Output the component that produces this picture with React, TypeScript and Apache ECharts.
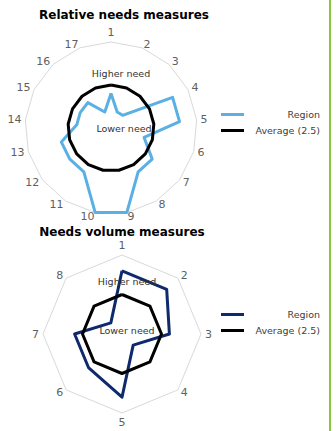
import React, { useEffect, useRef } from "react";
import * as echarts from "echarts";

const relLabels = ["1","2","3","4","5","6","7","8","9","10","11","12","13","14","15","16","17"];
const relRegion = [2, 1, 1, 4, 4, 2, 3, 3, 5, 5, 3, 3, 3, 2, 2, 2, 1];
const volLabels = ["1","2","3","4","5","6","7","8"];
const volRegion = [4, 4, 3, 1, 4, 3, 3, 1];
const averageValue = 2.5;
const maxValue = 5;
const legendNames = ["Region", "Average (2.5)"];
const titles = ["Relative needs measures", "Needs volume measures"];
const noteTexts = ["Higher need", "Lower need"];

const LIGHT_BLUE = "#5AB0E4";
const NAVY = "#0E2A6C";
const FONT = "DejaVu Sans, Verdana, sans-serif";

// ECharts radar lays indicators counter-clockwise; reorder to get clockwise.
function clockwise<T>(arr: T[]): T[] {
  return [arr[0], ...arr.slice(1).reverse()];
}

export default function App() {
  const ref = useRef<HTMLDivElement>(null);
  useEffect(() => {
    document.body.style.margin = "0";
    const chart = echarts.init(ref.current!, null, { renderer: "svg" });
    const radarBase = (labels: string[], center: number[], radius: number) => ({
      center,
      radius,
      startAngle: 90,
      shape: "polygon",
      splitNumber: 1,
      indicator: clockwise(labels).map((n) => ({ name: n, min: 0, max: maxValue })),
      axisName: { color: "#5f5f5f", fontSize: 11, fontFamily: FONT },
      nameGap: 4,
      splitLine: { lineStyle: { color: "#d9d9d9", width: 1 } },
      splitArea: { show: false },
      axisLine: { show: false },
      axisTick: { show: false },
      axisLabel: { show: false },
    });
    const legend = (y: number, color: string) => [
      { type: "line", shape: { x1: 221, y1: y, x2: 244, y2: y }, style: { stroke: color, lineWidth: 3 } },
      { type: "line", shape: { x1: 221, y1: y + 16, x2: 244, y2: y + 16 }, style: { stroke: "#000", lineWidth: 3 } },
      { type: "text", x: 320, y: y, style: { text: legendNames[0], textAlign: "right", textVerticalAlign: "middle", font: `9.5px ${FONT}`, fill: "#404040" } },
      { type: "text", x: 320, y: y + 16, style: { text: legendNames[1], textAlign: "right", textVerticalAlign: "middle", font: `9.5px ${FONT}`, fill: "#404040" } },
    ];
    const text = (t: string, x: number, y: number, font: string, fill: string) => ({
      type: "text", x, y, z: 10,
      style: { text: t, textAlign: "center", textVerticalAlign: "middle", font, fill },
    });
    chart.setOption({
      animation: false,
      radar: [radarBase(relLabels, [111, 128], 86), radarBase(volLabels, [122, 334], 79)],
      series: [
        {
          type: "radar", radarIndex: 0, symbol: "none", silent: true,
          data: [
            { value: clockwise(relRegion), name: legendNames[0], lineStyle: { color: LIGHT_BLUE, width: 3 } },
            { value: clockwise(relLabels.map(() => averageValue)), name: legendNames[1], lineStyle: { color: "#000", width: 3 } },
          ],
        },
        {
          type: "radar", radarIndex: 1, symbol: "none", silent: true,
          data: [
            { value: clockwise(volRegion), name: legendNames[0], lineStyle: { color: NAVY, width: 3 } },
            { value: clockwise(volLabels.map(() => averageValue)), name: legendNames[1], lineStyle: { color: "#000", width: 3 } },
          ],
        },
      ],
      graphic: [
        text(titles[0], 124, 15, `bold 12px ${FONT}`, "#000"),
        text(titles[1], 122, 232, `bold 12px ${FONT}`, "#000"),
        text(noteTexts[0], 121, 73, `9.5px ${FONT}`, "#333"),
        text(noteTexts[1], 124, 128, `9.5px ${FONT}`, "#333"),
        text(noteTexts[0], 127, 281, `9.5px ${FONT}`, "#333"),
        text(noteTexts[1], 127, 330, `9.5px ${FONT}`, "#333"),
        ...legend(114.5, LIGHT_BLUE),
        ...legend(314.5, NAVY),
        { type: "rect", shape: { x: 329, y: 0, width: 2, height: 431 }, style: { fill: "#8CC63E" } },
      ],
    });
    return () => chart.dispose();
  }, []);
  return <div ref={ref} style={{ position: "absolute", left: 0, top: 0, width: 336, height: 431 }} />;
}
